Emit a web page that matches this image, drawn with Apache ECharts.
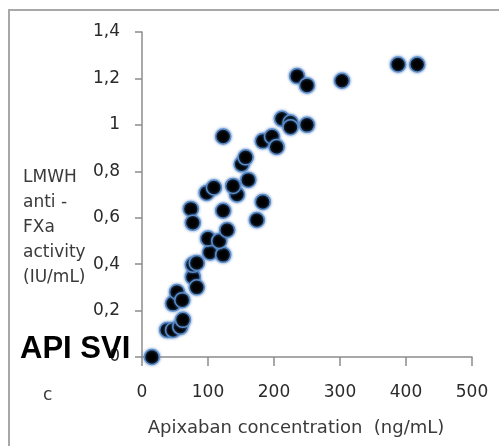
<!DOCTYPE html>
<html>
<head>
<meta charset="utf-8">
<script src="https://cdn.jsdelivr.net/npm/echarts@6/dist/echarts.min.js"></script>
<style>html,body{margin:0;padding:0;background:#fff}#c{width:499px;height:446px}</style>
</head>
<body>
<div id="c"></div>
<script>
// Apixaban concentration (ng/mL)
const apixaban = [15, 38, 47, 58, 62, 47, 53, 61, 77, 83, 77, 83, 103, 123, 100, 117, 129,
  74, 77, 123, 98, 109, 144, 138, 161, 174, 183, 151, 157, 123, 183, 197, 204, 212, 225, 225, 250,
  235, 250, 303, 388, 417];
// LMWH anti-FXa activity (IU/mL)
const antiFXa = [0.0, 0.116, 0.116, 0.13, 0.16, 0.23, 0.28, 0.245, 0.345, 0.30, 0.397, 0.405, 0.45, 0.44, 0.51, 0.50, 0.547,
  0.638, 0.578, 0.63, 0.707, 0.73, 0.70, 0.737, 0.763, 0.59, 0.668, 0.83, 0.86, 0.95, 0.93, 0.95, 0.905, 1.026, 1.01, 0.99, 1.0,
  1.21, 1.17, 1.19, 1.26, 1.26];
const yTicks = [0, 0.2, 0.4, 0.6, 0.8, 1, 1.2, 1.4];
const xTicks = [0, 100, 200, 300, 400, 500];

const pts = apixaban.map((x, i) => [x, antiFXa[i]]);
const font = 'DejaVu Sans';
const chart = echarts.init(document.getElementById('c'));
chart.setOption({
  animation: false,
  grid: {left: 142, top: 32, right: 27, bottom: 89, containLabel: false},
  xAxis: {
    type: 'value', min: xTicks[0], max: xTicks[xTicks.length - 1], interval: 100,
    splitLine: {show: false},
    axisLine: {show: true, lineStyle: {color: '#8c8c8c', width: 1.5}},
    axisTick: {show: true, length: 9, lineStyle: {color: '#8c8c8c', width: 1.5}},
    axisLabel: {color: '#2a2a2a', fontFamily: font, fontSize: 17, margin: 27},
    name: 'Apixaban concentration  (ng/mL)', nameLocation: 'middle', nameGap: 62,
    nameTextStyle: {color: '#3a3a3a', fontFamily: font, fontSize: 18, padding: [0, 22, 0, 0]}
  },
  yAxis: {
    type: 'value', min: yTicks[0], max: yTicks[yTicks.length - 1], interval: 0.2,
    splitLine: {show: false},
    axisLine: {show: true, lineStyle: {color: '#8c8c8c', width: 1.5}},
    axisTick: {show: true, length: 7, lineStyle: {color: '#8c8c8c', width: 1.5}},
    axisLabel: {color: '#2a2a2a', fontFamily: font, fontSize: 17, margin: 22,
      formatter: v => String(Math.round(v * 10) / 10).replace('.', ',')}
  },
  graphic: [
    {type: 'rect', shape: {x: 9, y: 10, width: 520, height: 460}, style: {fill: 'none', stroke: '#a8a8a8', lineWidth: 2}, z: -1},
    {type: 'text', left: 23, top: 165, style: {text: 'LMWH\nanti -\nFXa\nactivity\n(IU/mL)', fill: '#3a3a3a', font: '17px "DejaVu Sans"', lineHeight: 25}},
    {type: 'text', left: 20, top: 334, z: 100, style: {text: 'API SVI', fill: '#000', font: 'bold 31px "Liberation Sans"'}},
    {type: 'text', left: 43, top: 387, style: {text: 'c', fill: '#3a3a3a', font: '17px "DejaVu Sans"'}}
  ],
  series: [{
    type: 'scatter', data: pts, symbolSize: 15, clip: false,
    itemStyle: {color: '#000', borderColor: '#5b8dc9', borderWidth: 1.5, opacity: 1,
      shadowBlur: 3, shadowColor: 'rgba(70,120,190,0.8)'}
  }]
});
</script>
</body>
</html>
